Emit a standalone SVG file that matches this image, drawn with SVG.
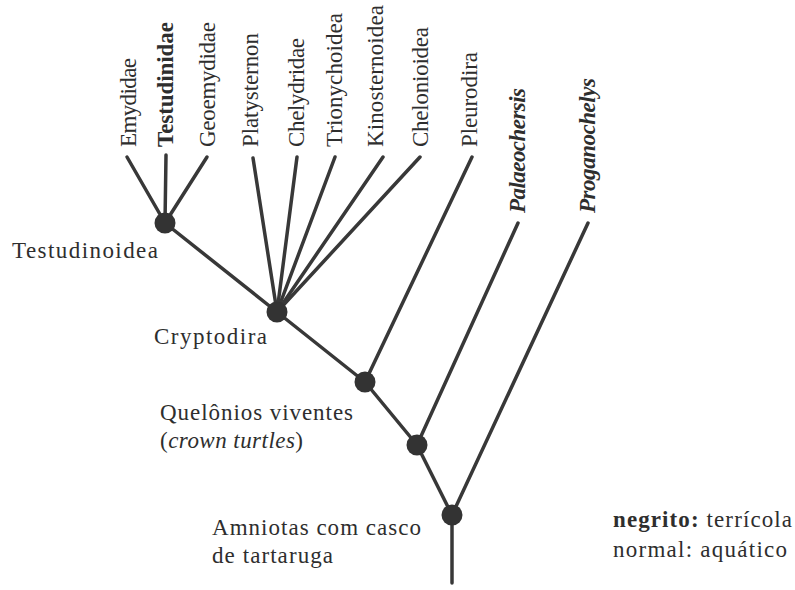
<svg xmlns="http://www.w3.org/2000/svg" width="795" height="590" viewBox="0 0 795 590">
<style>
.lbl{font-family:"Liberation Serif","Times New Roman",serif;font-size:23px;fill:#2e2e2e}
.b{font-weight:bold}
.bi{font-weight:bold;font-style:italic}
.it{font-style:italic}
.edge{stroke:#383838;stroke-width:3.5;fill:none;stroke-linecap:round}
.node{fill:#333333}
</style>
<rect width="795" height="590" fill="#ffffff"/>
<g id="connectors">
<line class="edge" x1="127" y1="157" x2="165" y2="223"/>
<line class="edge" x1="166" y1="155" x2="165" y2="223"/>
<line class="edge" x1="207" y1="157" x2="165" y2="223"/>
<line class="edge" x1="165" y1="223" x2="277" y2="312"/>
<line class="edge" x1="253" y1="158" x2="277" y2="312"/>
<line class="edge" x1="297" y1="157" x2="277" y2="312"/>
<line class="edge" x1="335" y1="157" x2="277" y2="312"/>
<line class="edge" x1="383" y1="157" x2="277" y2="312"/>
<line class="edge" x1="420" y1="157" x2="277" y2="312"/>
<line class="edge" x1="277" y1="312" x2="365" y2="382"/>
<line class="edge" x1="472" y1="157" x2="365" y2="382"/>
<line class="edge" x1="365" y1="382" x2="417" y2="445"/>
<line class="edge" x1="518" y1="223" x2="417" y2="445"/>
<line class="edge" x1="417" y1="445" x2="452" y2="515"/>
<line class="edge" x1="588" y1="223" x2="452" y2="515"/>
<line class="edge" x1="452" y1="515" x2="452" y2="583"/>
</g>
<g id="node-testudinoidea">
<circle class="node" cx="165" cy="223" r="10.5"/>
<text class="lbl" x="12" y="258" textLength="146" lengthAdjust="spacing">Testudinoidea</text>
</g>
<g id="node-cryptodira">
<circle class="node" cx="277" cy="312" r="10.5"/>
<text class="lbl" x="154" y="344" textLength="113" lengthAdjust="spacing">Cryptodira</text>
</g>
<g id="node-quelonios">
<circle class="node" cx="365" cy="382" r="10.5"/>
<text class="lbl" x="160" y="420" textLength="193" lengthAdjust="spacing">Quelônios viventes</text>
<text class="lbl" x="160" y="448" textLength="143" lengthAdjust="spacing">(<tspan class="it">crown turtles</tspan>)</text>
</g>
<g id="node-palaeo-split">
<circle class="node" cx="417" cy="445" r="10.5"/>
</g>
<g id="node-root">
<circle class="node" cx="452" cy="515" r="10.5"/>
<text class="lbl" x="212" y="535" textLength="209" lengthAdjust="spacing">Amniotas com casco</text>
<text class="lbl" x="212" y="563" textLength="121" lengthAdjust="spacing">de tartaruga</text>
</g>
<g id="leaf-emydidae"><text class="lbl" transform="translate(136,147) rotate(-90)" textLength="89" lengthAdjust="spacing">Emydidae</text></g>
<g id="leaf-testudinidae"><text class="lbl b" transform="translate(173,147) rotate(-90)" textLength="125" lengthAdjust="spacing">Testudinidae</text></g>
<g id="leaf-geoemydidae"><text class="lbl" transform="translate(215,147) rotate(-90)" textLength="125" lengthAdjust="spacing">Geoemydidae</text></g>
<g id="leaf-platysternon"><text class="lbl" transform="translate(258,147) rotate(-90)" textLength="114" lengthAdjust="spacing">Platysternon</text></g>
<g id="leaf-chelydridae"><text class="lbl" transform="translate(304,147) rotate(-90)" textLength="109" lengthAdjust="spacing">Chelydridae</text></g>
<g id="leaf-trionychoidea"><text class="lbl" transform="translate(342,147) rotate(-90)" textLength="134" lengthAdjust="spacing">Trionychoidea</text></g>
<g id="leaf-kinosternoidea"><text class="lbl" transform="translate(383,147) rotate(-90)" textLength="142" lengthAdjust="spacing">Kinosternoidea</text></g>
<g id="leaf-chelonioidea"><text class="lbl" transform="translate(428,147) rotate(-90)" textLength="120" lengthAdjust="spacing">Chelonioidea</text></g>
<g id="leaf-pleurodira"><text class="lbl" transform="translate(477,147) rotate(-90)" textLength="95" lengthAdjust="spacing">Pleurodira</text></g>
<g id="leaf-palaeochersis"><text class="lbl bi" transform="translate(525,213) rotate(-90)" textLength="125" lengthAdjust="spacing">Palaeochersis</text></g>
<g id="leaf-proganochelys"><text class="lbl bi" transform="translate(595,213) rotate(-90)" textLength="135" lengthAdjust="spacing">Proganochelys</text></g>
<g id="legend">
<text class="lbl" x="613" y="527" textLength="179" lengthAdjust="spacing"><tspan class="b">negrito:</tspan> terrícola</text>
<text class="lbl" x="613" y="557" textLength="174" lengthAdjust="spacing">normal: aquático</text>
</g>
</svg>
